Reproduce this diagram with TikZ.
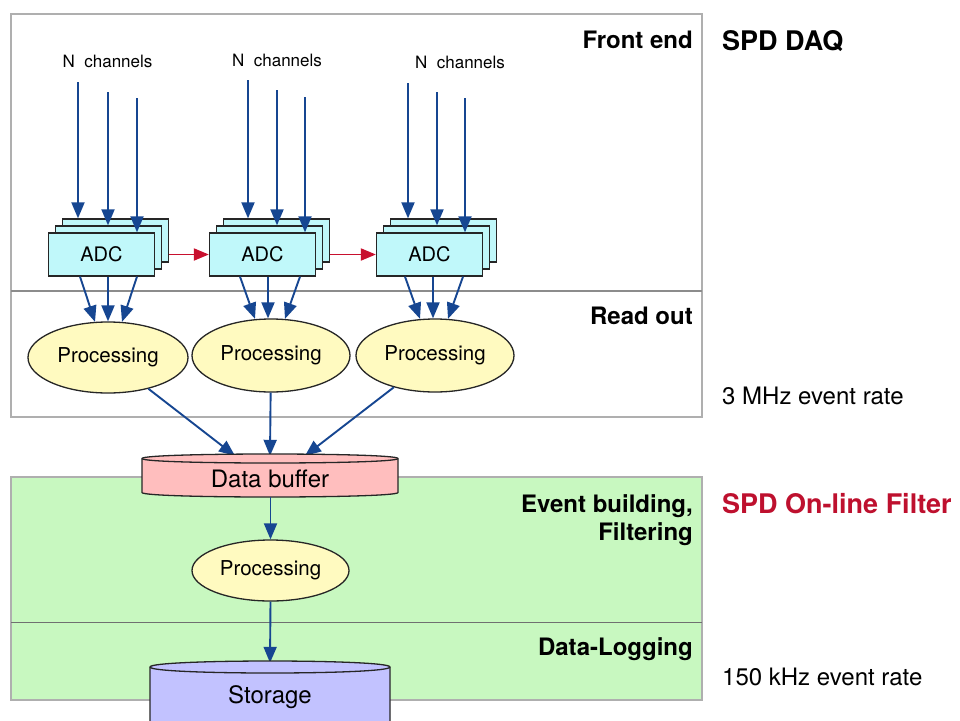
\documentclass[tikz,border=0pt]{standalone}
\usepackage{fontspec}
\setmainfont{TeX Gyre Heros}
\usetikzlibrary{arrows.meta,shapes.geometric,calc}
\definecolor{arrowblue}{RGB}{22,70,145}
\definecolor{arrowred}{RGB}{200,16,46}
\definecolor{adccyan}{RGB}{192,248,250}
\definecolor{procyellow}{RGB}{255,250,192}
\definecolor{bufpink}{RGB}{255,190,190}
\definecolor{storblue}{RGB}{194,194,255}
\definecolor{filtgreen}{RGB}{200,248,192}
\definecolor{boxgray}{RGB}{175,175,175}
\definecolor{divgray}{RGB}{140,140,140}
\definecolor{titlered}{RGB}{190,16,46}
\begin{document}
\begin{tikzpicture}[x=1pt,y=-1pt,
  barrow/.style={draw=arrowblue, line width=1.9pt, -{Triangle[length=16pt,width=13pt]}},
  rarrow/.style={draw=arrowred, line width=1.9pt, -{Triangle[length=15pt,width=12pt]}},
  adcbox/.style={draw=black!85, line width=1.3pt, fill=adccyan, minimum width=106pt, minimum height=43pt, inner sep=0pt, font=\fontsize{20}{24}\selectfont},
  procell/.style={ellipse, draw=black!85, line width=1.3pt, fill=procyellow, inner sep=0pt, font=\fontsize{20.5}{24}\selectfont},
  chan/.style={font=\fontsize{17}{20}\selectfont, anchor=base, inner sep=0pt},
  seclabel/.style={font=\bfseries\fontsize{24}{28}\selectfont, anchor=base east, inner sep=0pt},
  ratelabel/.style={font=\fontsize{24}{28}\selectfont, anchor=base west, inner sep=0pt},
  bigtitle/.style={font=\bfseries\fontsize{27}{32}\selectfont, anchor=base west, inner sep=0pt},
  cyltext/.style={font=\fontsize{24}{28}\selectfont, anchor=base, inner sep=0pt},
  ghost/.style={draw=none, inner sep=0pt}
]
\clip (0,0) rectangle (960,720);
\fill[white] (0,0) rectangle (960,720);

% section boxes
\draw[boxgray, line width=1.2pt] (11,14) rectangle (702,417);
\draw[divgray, line width=1.2pt] (11,291) -- (702,291);
\filldraw[fill=filtgreen, draw=boxgray, line width=1.2pt] (11,477) rectangle (702,700);
\draw[divgray!80!black, line width=1pt] (11,622) -- (702,622);

% section labels
\node[seclabel] (lfe) at (693,48) {Front end};
\node[seclabel] (lro) at (693,324) {Read out};
\node[seclabel] (leb) at (693,512) {Event building,};
\node[seclabel] (lfi) at (693,540) {Filtering};
\node[seclabel] (ldl) at (693,655) {Data-Logging};
\node[bigtitle] (tdaq) at (722,50) {SPD DAQ};
\node[bigtitle, text=titlered] (tolf) at (722,513) {SPD On-line Filter};
\node[ratelabel] (r3) at (722,404) {3 MHz event rate};
\node[ratelabel] (r150) at (722,685) {150 kHz event rate};

% channel labels
\node[chan] (n1) at (107.5,67) {N\ \ channels};
\node[chan] (n2) at (277,66) {N\ \ channels};
\node[chan] (n3) at (460,68) {N\ \ channels};

% ADC stacks
\node[adcbox] (a1b) at (115.5,240.5) {};
\node[adcbox] (a1m) at (108.5,247.5) {};
\node[adcbox] (a1) at (101.5,254.5) {ADC};
\node[adcbox] (a2b) at (276.5,240.5) {};
\node[adcbox] (a2m) at (269.5,247.5) {};
\node[adcbox] (a2) at (262.5,254.5) {ADC};
\node[adcbox] (a3b) at (443.5,240.5) {};
\node[adcbox] (a3m) at (436.5,247.5) {};
\node[adcbox] (a3) at (429.5,254.5) {ADC};

% channel arrows
\coordinate (c11) at (78,82);  \coordinate (c12) at (108,92);  \coordinate (c13) at (137,98);
\coordinate (c21) at (248,80); \coordinate (c22) at (277,90);  \coordinate (c23) at (305,97);
\coordinate (c31) at (408,83); \coordinate (c32) at (437,92);  \coordinate (c33) at (465,98);
\draw[barrow] (c11) -- (c11 |- a1b.north);
\draw[barrow] (c12) -- (c12 |- a1m.north);
\draw[barrow] (c13) -- (c13 |- a1.north);
\draw[barrow] (c21) -- (c21 |- a2b.north);
\draw[barrow] (c22) -- (c22 |- a2m.north);
\draw[barrow] (c23) -- (c23 |- a2.north);
\draw[barrow] (c31) -- (c31 |- a3b.north);
\draw[barrow] (c32) -- (c32 |- a3m.north);
\draw[barrow] (c33) -- (c33 |- a3.north);

% red arrows between ADC stacks
\draw[rarrow] (a1b.east |- a2.west) -- (a2.west);
\draw[rarrow] (a2b.east |- a3.west) -- (a3.west);

% processing ellipses
\node[procell, minimum width=160pt, minimum height=71pt] (p1) at (108,357.5) {Processing};
\node[procell, minimum width=158pt, minimum height=73pt] (p2) at (271,355.5) {Processing};
\node[procell, minimum width=158pt, minimum height=73pt] (p3) at (435,355.5) {Processing};

% ADC -> processing
\draw[barrow] ($(a1.south)+(-21.5,0)$) -- ($(p1.north)+(-13,0.5)$);
\draw[barrow] ($(a1.south)+(6.5,0)$) -- ($(p1.north)+(0,0)$);
\draw[barrow] ($(a1.south)+(35.5,0)$) -- ($(p1.north)+(14,0.5)$);
\draw[barrow] ($(a2.south)+(-22.5,0)$) -- ($(p2.north)+(-16,0.5)$);
\draw[barrow] ($(a2.south)+(5.5,0)$) -- ($(p2.north)+(-3,0)$);
\draw[barrow] ($(a2.south)+(37.5,0)$) -- ($(p2.north)+(14,0.5)$);
\draw[barrow] ($(a3.south)+(-24.5,0)$) -- ($(p3.north)+(-15,0.5)$);
\draw[barrow] ($(a3.south)+(3.5,0)$) -- ($(p3.north)+(-2,0)$);
\draw[barrow] ($(a3.south)+(33.5,0)$) -- ($(p3.north)+(13,0.5)$);

% data buffer geometry node
\node[ghost, minimum width=256pt, minimum height=43pt] (buf) at (270,475.5) {};
\draw[barrow] (p1) -- ($(buf.north)+(-35,2)$);
\draw[barrow] (p2) -- ($(buf.north)+(0,2)$);
\draw[barrow] (p3) -- ($(buf.north)+(35,2)$);

% data buffer cylinder
\filldraw[fill=bufpink, draw=black!85, line width=1.3pt]
  (142,458.5) -- (142,492.5) .. controls (142,498.5) and (398,498.5) .. (398,492.5)
  -- (398,458.5) .. controls (398,452.5) and (142,452.5) .. (142,458.5) -- cycle;
\draw[black!85, line width=1.3pt] (142,458.5) .. controls (142,464.5) and (398,464.5) .. (398,458.5);
\node[cyltext] (buft) at (270,487) {Data buffer};

% bottom processing
\node[procell, minimum width=157pt, minimum height=61pt] (p4) at (270.5,570.5) {Processing};
\draw[barrow] (buf.south -| p4.north) -- (p4.north);

% storage
\node[ghost, minimum width=240pt, minimum height=58pt] (stor) at (270,690) {};
\draw[barrow] (p4.south) -- ($(stor.north)+(0,2)$);
\filldraw[fill=storblue, draw=black!85, line width=1.3pt]
  (150,740) -- (150,667) .. controls (150,659) and (390,659) .. (390,667) -- (390,740);
\draw[black!85, line width=1.3pt] (150,667) .. controls (150,675) and (390,675) .. (390,667);
\node[cyltext] (stort) at (270,703) {Storage};
\end{tikzpicture}
\end{document}
